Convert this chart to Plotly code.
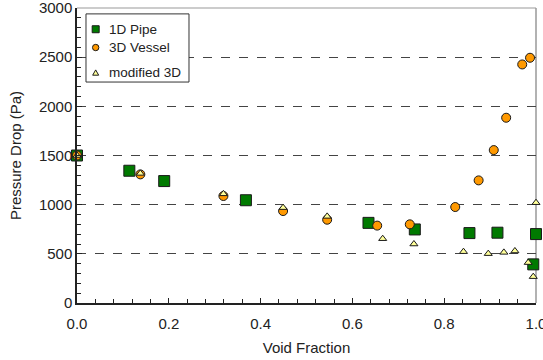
import plotly.graph_objects as go

pipe_x = [0.0, 0.114, 0.19, 0.368, 0.635, 0.736, 0.855, 0.916, 1.0, 0.994]
pipe_y = [1500, 1345, 1240, 1045, 815, 748, 711, 715, 701, 393]

vessel_x = [0.0, 0.138, 0.319, 0.449, 0.545, 0.654, 0.725, 0.824, 0.875, 0.908, 0.935, 0.970, 0.987]
vessel_y = [1500, 1308, 1088, 935, 847, 787, 800, 976, 1247, 1555, 1884, 2426, 2494]

mod_x = [0.0, 0.138, 0.319, 0.449, 0.545, 0.666, 0.734, 0.842, 0.896, 0.930, 0.954, 0.983, 0.994, 1.0]
mod_y = [1500, 1318, 1110, 970, 881, 654, 600, 522, 502, 515, 529, 411, 268, 1020]

series_names = ["1D Pipe", "3D Vessel", "modified 3D"]

font = "Liberation Sans"
GREEN, ORANGE, YELLOW, EDGE = "#007a00", "#ff9900", "#ffff99", "#1a1a1a"

fig = go.Figure()
fig.add_trace(go.Scatter(x=pipe_x, y=pipe_y, mode="markers", name=series_names[0],
                         marker=dict(symbol="square", size=11, color=GREEN,
                                     line=dict(color=EDGE, width=1)), cliponaxis=False))
fig.add_trace(go.Scatter(x=vessel_x, y=vessel_y, mode="markers", name=series_names[1],
                         marker=dict(symbol="circle", size=9, color=ORANGE,
                                     line=dict(color=EDGE, width=1)), cliponaxis=False))
fig.add_trace(go.Scatter(x=mod_x, y=mod_y, mode="markers", name=series_names[2],
                         marker=dict(symbol="triangle-up", size=7, color=YELLOW,
                                     line=dict(color=EDGE, width=1)), cliponaxis=False))

fig.update_layout(
    template="none",
    width=543, height=360,
    margin=dict(l=77, r=7, t=8, b=57, autoexpand=False),
    paper_bgcolor="white", plot_bgcolor="white",
    font=dict(family=font, size=15, color="#222"),
    showlegend=False,
)
fig.update_xaxes(range=[0, 1.0], dtick=0.2, tickformat=".1f", automargin=False,
                 showline=True, linecolor="#222", linewidth=1.5,
                 ticks="inside", ticklen=5, tickcolor="#222",
                 minor=dict(dtick=0.04, ticks="inside", ticklen=4, tickcolor="#222", showgrid=False),
                 showgrid=False, zeroline=False, ticklabeloverflow="allow",
                 ticklabelstandoff=6,
                 title=dict(text="Void Fraction", font=dict(size=15), standoff=12),
                 tickfont=dict(size=15))
fig.update_yaxes(range=[0, 3000], dtick=500, automargin=False,
                 showline=True, linecolor="#222", linewidth=1.5,
                 ticks="inside", ticklen=5, tickcolor="#222",
                 minor=dict(dtick=100, ticks="inside", ticklen=4, tickcolor="#222", showgrid=False),
                 showgrid=True, gridcolor="#444", griddash="dash", gridwidth=1,
                 zeroline=False, ticklabeloverflow="allow",
                 title=dict(text="Pressure Drop (Pa)", font=dict(size=15), standoff=14),
                 tickfont=dict(size=15))
fig.add_shape(type="line", xref="paper", yref="paper", x0=0, x1=1, y0=1, y1=1,
              line=dict(color="#999", width=1), layer="below")
fig.add_shape(type="line", xref="paper", yref="paper", x0=1, x1=1, y0=0, y1=1,
              line=dict(color="#999", width=1.5), layer="below")

# custom legend (compact, like the reference)
fig.add_shape(type="rect", xref="paper", yref="paper", x0=0.0196, x1=0.244, y0=0.749, y1=0.980,
              line=dict(color="#333", width=1), fillcolor="white", layer="above")
sx = 0.0407
ys = [0.928, 0.866, 0.780]
fig.add_shape(type="rect", xref="paper", yref="paper", xsizemode="pixel", ysizemode="pixel",
              xanchor=sx, yanchor=ys[0], x0=-3.5, x1=3.5, y0=-3.5, y1=3.5,
              fillcolor=GREEN, line=dict(color=EDGE, width=1), layer="above")
fig.add_shape(type="circle", xref="paper", yref="paper", xsizemode="pixel", ysizemode="pixel",
              xanchor=sx, yanchor=ys[1], x0=-3.2, x1=3.2, y0=-3.2, y1=3.2,
              fillcolor=ORANGE, line=dict(color=EDGE, width=1), layer="above")
fig.add_shape(type="path", xref="paper", yref="paper", xsizemode="pixel", ysizemode="pixel",
              xanchor=sx, yanchor=ys[2], path="M -3,-2.3 L 3,-2.3 L 0,3 Z",
              fillcolor=YELLOW, line=dict(color=EDGE, width=1), layer="above")
for name, yy in zip(series_names, ys):
    fig.add_annotation(x=0.0654, y=yy, xref="paper", yref="paper", text=name,
                       showarrow=False, xanchor="left", yanchor="middle",
                       font=dict(family=font, size=13.5, color="#222"))

fig.write_html("out.html", config={"displayModeBar": False},
               post_script="document.body.style.margin='0';document.body.style.overflow='hidden';")
